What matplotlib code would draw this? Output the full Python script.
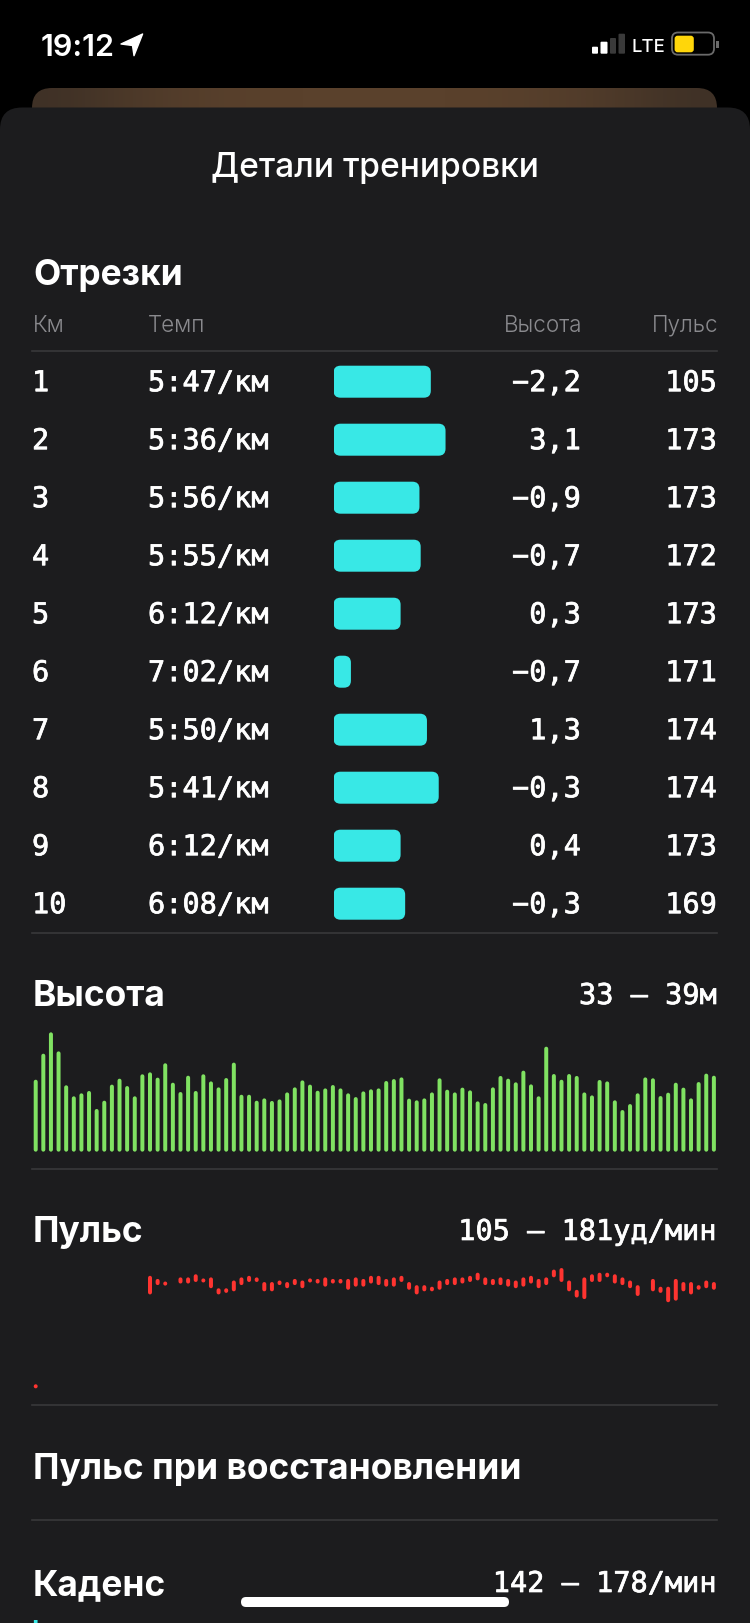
import matplotlib
matplotlib.use('Agg')
from matplotlib import pyplot as plt
from matplotlib import patheffects
from matplotlib.patches import FancyBboxPatch, Rectangle, Polygon
import numpy as np

#######################################################################
# Data
#######################################################################
km = list(range(1, 11))
pace = ['5:47', '5:36', '5:56', '5:55', '6:12', '7:02', '5:50', '5:41', '6:12', '6:08']
elev_delta = ['−2,2', '3,1', '−0,9', '−0,7', '0,3', '−0,7', '1,3', '−0,3', '0,4', '−0,3']
pulse_km = [105, 173, 173, 172, 173, 171, 174, 174, 173, 169]

# elevation in metres, one bar per sample
elevation = [35.34, 37.35, 39.00, 37.53, 34.91, 34.06, 34.29, 34.47, 33.08, 33.72,
             34.96, 35.42, 34.85, 34.06, 35.76, 35.91, 35.50, 36.61, 35.11, 34.39,
             35.65, 34.47, 35.76, 35.21, 34.75, 35.47, 36.66, 34.18, 34.18, 33.72,
             33.90, 33.70, 33.82, 34.36, 34.75, 35.29, 34.96, 34.49, 34.67, 34.93,
             34.67, 34.29, 34.00, 34.44, 34.60, 34.67, 35.24, 35.39, 35.52, 33.88,
             33.75, 33.90, 34.36, 35.45, 34.57, 34.36, 34.73, 34.52, 33.67, 33.54,
             34.75, 35.63, 35.42, 35.14, 36.04, 34.98, 34.06, 37.89, 35.78, 35.34,
             35.78, 35.63, 34.36, 34.13, 35.32, 35.21, 33.75, 33.00, 33.46, 34.29,
             35.52, 35.45, 34.08, 34.34, 35.11, 34.73, 33.90, 35.16, 35.81, 35.65]

# pulse range per sample, None where nothing is drawn
pulse_hi = [105] + [None] * 14 + [
    176, 174, 172, None, 175, 175, 177, 174, 175, 168, 168, 173, 175, 176, 175,
    172, 172, 173, 172, 174, 173, 174, 174, 175, 174, 174, 174, 175, 174, 176,
    176, 174, 175, 176, 172, 170, 170, 169, 173, 174, 175, 175, 176, 178, 175,
    174, 175, 174, 173, 175, 176, 174, 175, 180, 181, 173, 167, 175, 177, 178,
    178, 177, 175, 173, 170, None, 174, 169, 169, 174, 172, 172, 170, 173, 172]
pulse_lo = [105] + [None] * 14 + [
    164, 170, 170, None, 171, 171, 172, 172, 168, 164, 165, 166, 170, 172, 172,
    166, 166, 170, 168, 170, 168, 172, 171, 169, 171, 171, 167, 169, 169, 171,
    170, 169, 169, 172, 167, 164, 166, 166, 167, 170, 170, 171, 172, 173, 170,
    170, 170, 169, 168, 169, 171, 168, 170, 175, 172, 166, 162, 161, 172, 172,
    175, 171, 170, 168, 163, None, 166, 165, 159, 160, 166, 164, 167, 168, 167]
cadence_start = [178]

#######################################################################
# Colours and helpers
#######################################################################
BG = '#1c1c1e'
LINE = '#38383a'
GREY = '#8a8a8e'
CYAN = '#38e8e6'
GREEN = '#80e262'
RED = '#ff3430'
SANS = ['Inter', 'Roboto', 'DejaVu Sans']
MONO = ['DejaVu Sans Mono']
W, H = 750, 1624
# text sat a little high against the reference
DY = 2

fig = plt.figure(figsize=(W / 100, H / 100), dpi=100, facecolor='black')
bg = fig.add_axes([0, 0, 1, 1])
bg.set_xlim(0, W)
bg.set_ylim(H, 0)
bg.axis('off')


def px_axes(x0, y0, x1, y1):
    # transparent axes placed by screen pixels, y0 is the top edge
    ax = fig.add_axes([x0 / W, 1 - y1 / H, (x1 - x0) / W, (y1 - y0) / H], zorder=3)
    ax.axis('off')
    return ax


def px(v):
    # pixels to points for line widths and font sizes
    return v * 0.72


#######################################################################
# Background card, sheet and status bar
#######################################################################
card = FancyBboxPatch((32, 89), 685, 60, boxstyle='round,pad=0,rounding_size=20', fc='none', ec='none')
bg.add_patch(card)
grad = np.array([[0.0, 0.55, 0.85, 1, 1, 1, 1, 0.85, 0.55, 0.0]])
img = bg.imshow(grad, extent=(32, 717, 149, 89), cmap=matplotlib.colors.LinearSegmentedColormap.from_list(
    'card', ['#3f3126', '#5a412c']), interpolation='bicubic', aspect='auto', vmin=0, vmax=1)
img.set_clip_path(card)
bg.set_xlim(0, W)
bg.set_ylim(H, 0)
bg.add_patch(FancyBboxPatch((0, 108.5), W, H, boxstyle='round,pad=0,rounding_size=22', fc=BG, ec='none', zorder=2))

bg.text(41, 45.5 + DY, '19:12', color='white', fontsize=px(30.5), fontweight=600, family=SANS, va='center', ha='left')
bg.add_patch(Polygon([(142.6, 35), (121, 45), (132.5, 46.5), (134, 56.7)], closed=True, fc='white', ec='white', lw=1, joinstyle='round'))
for x0, x1, top, col in [(592, 598, 47.7, 'white'), (600.5, 607.5, 42.7, 'white'),
                         (610, 616, 39, '#3a3a3a'), (618.5, 625, 34.7, '#3a3a3a')]:
    bg.add_patch(FancyBboxPatch((x0, top), x1 - x0, 54.7 - top, boxstyle='round,pad=0,rounding_size=1', fc=col, ec='none'))
bg.text(648, 46 + DY, 'LTE', color='white', fontsize=px(18.5), fontweight=500, family=SANS, va='center', ha='center')
bg.add_patch(FancyBboxPatch((672, 33.5), 42, 22.2, boxstyle='round,pad=0,rounding_size=6', fc='none', ec='#6a6a6a', lw=1.3))
bg.add_patch(FancyBboxPatch((674.6, 36.7), 19.2, 16.6, boxstyle='round,pad=0,rounding_size=3', fc='#ffd60a', ec='none'))
bg.add_patch(Rectangle((716, 41.7), 2.5, 7.3, fc='#6a6a6a', ec='none'))

#######################################################################
# Text blocks
#######################################################################
def head(x, y, s, ha='left', size=35.3):
    bg.text(x, y + DY, s, color='white', fontsize=px(size), fontweight=700, family=SANS, va='center', ha=ha, zorder=4)


def mono(x, y, s, ha='right', color='white'):
    t = bg.text(x, y + DY, s, color=color, fontsize=px(28.6), family=MONO, va='center', ha=ha, zorder=4)
    # the reference digits are a medium weight, DejaVu Mono has only regular and bold
    t.set_path_effects([patheffects.withStroke(linewidth=0.5, foreground=color)])


bg.text(375, 165.5 + DY, 'Детали тренировки', color='white', fontsize=px(33.6), fontweight=500, family=SANS,
        va='center', ha='center', zorder=4)
head(33, 273.5, 'Отрезки')
head(33, 995, 'Высота')
head(33, 1231, 'Пульс')
head(33, 1467.5, 'Пульс при восстановлении')
head(33, 1583.5, 'Каденс')
mono(717, 995, '33 — 39м')
mono(717, 1231, '105 — 181уд/мин')
mono(717, 1583, '142 — 178/мин')

for x, s, ha in [(33, 'Км', 'left'), (148, 'Темп', 'left'), (582, 'Высота', 'right'), (719, 'Пульс', 'right')]:
    bg.text(x, 324 + DY, s, color=GREY, fontsize=px(22.5), fontweight=300, family=SANS, va='center', ha=ha, zorder=4)

for y in [352, 933.5, 1169.5, 1405.5, 1521]:
    bg.plot([32, 717], [y, y], color=LINE, lw=1.2, zorder=4)

row_y = [382.2 + 58 * i for i in range(10)]
for y, k, p, d, b in zip(row_y, km, pace, elev_delta, pulse_km):
    mono(32, y, str(k), ha='left')
    mono(148, y, p + '/км', ha='left')
    mono(581, y, d)
    mono(717, y, str(b))

#######################################################################
# Pace bars, length goes with speed in m/s
#######################################################################
speed = [1000.0 / (int(p.split(':')[0]) * 60 + int(p.split(':')[1])) for p in pace]
px_per_speed = 156.0
pace_ax = px_axes(333.5, 353.7, 460, 933.7)
pace_ax.set_xlim(2.258, 2.258 + (460 - 333.5) / px_per_speed)
pace_ax.set_ylim(9.5, -0.5)
bar_h = 32 / 58.0
radius = 7 / px_per_speed
for i, v in enumerate(speed):
    w = v - 2.258
    pace_ax.add_patch(FancyBboxPatch((2.258, i - bar_h / 2), w, bar_h,
                                     boxstyle='round,pad=0,rounding_size=%f' % radius,
                                     mutation_aspect=px_per_speed / 58.0, fc=CYAN, ec='none'))

#######################################################################
# Elevation and pulse, same 90 sample grid
#######################################################################
x_first, x_step = 35.7, 7.62
xlim = ((30 - x_first) / x_step, (720 - x_first) / x_step)
idx = np.arange(len(elevation))

el_ax = px_axes(30, 1033.3, 720, 1152.7)
el_ax.set_xlim(*xlim)
el_ax.set_ylim(29.78, 39)
lw_el = 4.0
pad = (lw_el / 2) * (39 - 29.78) / (1152.7 - 1033.3)
el_ax.vlines(idx, 29.78 + pad, np.array(elevation) - pad, color=GREEN, lw=px(lw_el),
             capstyle='round', clip_on=False, snap=False)

pu_ax = px_axes(30, 1269, 720, 1387.3)
pu_ax.set_xlim(*xlim)
pu_ax.set_ylim(105, 181)
lw_pu = 4.0
pad = (lw_pu / 2) * 76 / (1387.3 - 1269)
for i, (a, b) in enumerate(zip(pulse_lo, pulse_hi)):
    if a is None:
        continue
    lo, hi = a + pad, b - pad
    if lo >= hi:
        # agg drops zero length segments, keep a sliver so the round cap shows as a dot
        mid = (a + b) / 2.0
        lo, hi = mid - 0.05, mid + 0.05
    pu_ax.vlines(i, lo, hi, color=RED, lw=px(lw_pu), capstyle='round', clip_on=False, snap=False)

# first cadence sample, the rest of that chart is below the screen edge
cad_ax = px_axes(30, 1621, 720, H)
cad_ax.set_xlim(*xlim)
cad_ax.set_ylim(177, 178)
cad_ax.vlines([0], 177, cadence_start, color=CYAN, lw=px(3.7), snap=False)

# home indicator
bg.add_patch(FancyBboxPatch((241, 1598), 268, 10, boxstyle='round,pad=0,rounding_size=5', fc='white', ec='none', zorder=5))

fig.savefig('out.png', dpi=100, facecolor='black')
